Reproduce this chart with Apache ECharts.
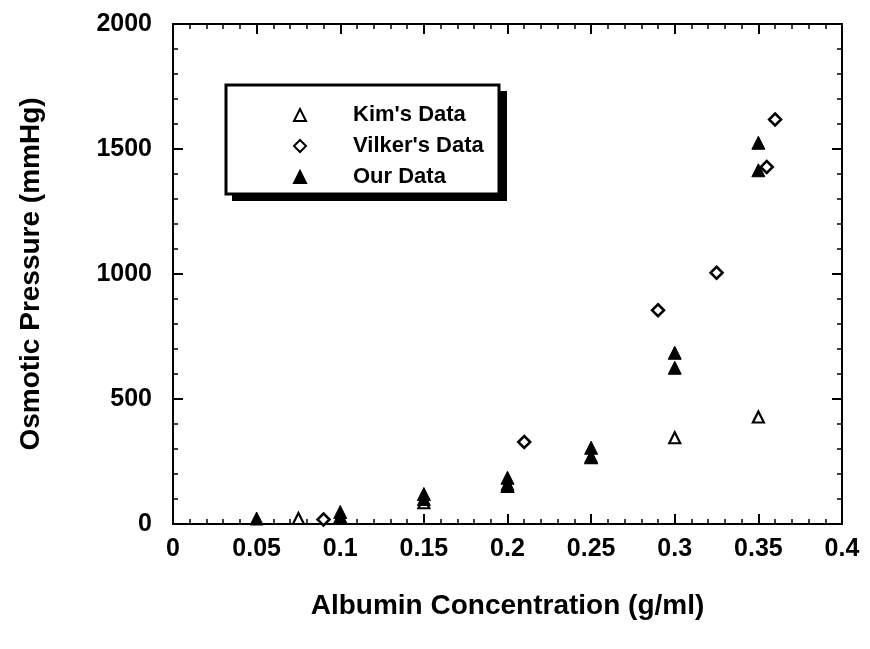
<!DOCTYPE html>
<html>
<head>
<meta charset="utf-8">
<script src="https://cdn.jsdelivr.net/npm/echarts@6/dist/echarts.min.js"></script>
<style>
  html, body { margin: 0; padding: 0; background: #fff; }
  #chart { width: 870px; height: 649px; }
</style>
</head>
<body>
<div id="chart"></div>
<script>
// values
const kimData = [
  [0.075, 22], [0.15, 85], [0.2, 150], [0.25, 265], [0.3, 345], [0.35, 428]
]
const vilkerData = [
  [0.09, 18], [0.21, 328], [0.29, 855], [0.325, 1005], [0.355, 1428], [0.36, 1618]
]
const ourData = [
  [0.05, 22], [0.1, 30], [0.1, 48], [0.15, 100], [0.15, 120],
  [0.2, 160], [0.2, 185], [0.25, 270], [0.25, 305],
  [0.3, 625], [0.3, 685], [0.35, 1415], [0.35, 1525]
]
const legendNames = ["Kim's Data", "Vilker's Data", 'Our Data']

const font = 'Liberation Sans, Arial, sans-serif'
const chart = echarts.init(document.getElementById('chart'))

const tickStyle = {
  axisLine: { show: true, onZero: false, lineStyle: { color: '#000', width: 2 } },
  axisTick: { show: true, inside: true, length: 10, lineStyle: { color: '#000', width: 2 } },
  minorTick: { show: true, splitNumber: 5, length: 5, lineStyle: { color: '#000', width: 1.5 } },
  splitLine: { show: false },
}
const baseX = { type: 'value', min: 0, max: 0.4, interval: 0.05, ...tickStyle }
const baseY = { type: 'value', min: 0, max: 2000, interval: 500, ...tickStyle }
const labelFont = { color: '#000', fontSize: 25, fontFamily: font, fontWeight: 'bold' }
const nameFont = { color: '#000', fontSize: 28, fontFamily: font, fontWeight: 'bold' }

const option = {
  backgroundColor: '#fff',
  animation: false,
  grid: { left: 173, right: 28, top: 24, bottom: 125 },
  xAxis: [
    {
      ...baseX,
      position: 'bottom',
      name: 'Albumin Concentration (g/ml)',
      nameLocation: 'middle',
      nameGap: 68,
      nameTextStyle: nameFont,
      axisLabel: { ...labelFont, margin: 13, formatter: v => String(+v.toFixed(2)) },
    },
    { ...baseX, position: 'top', axisLabel: { show: false } },
  ],
  yAxis: [
    {
      ...baseY,
      position: 'left',
      name: 'Osmotic Pressure (mmHg)',
      nameLocation: 'middle',
      nameGap: 128,
      nameTextStyle: nameFont,
      axisLabel: { ...labelFont, margin: 21, formatter: v => String(v) },
    },
    { ...baseY, position: 'right', axisLabel: { show: false } },
  ],
  graphic: [
    // legend frame with its heavy drop shadow
    { type: 'rect', z: 1, shape: { x: 232, y: 91, width: 275, height: 110 }, style: { fill: '#000' } },
    { type: 'rect', z: 2, shape: { x: 226, y: 85, width: 273, height: 109 },
      style: { fill: '#fff', stroke: '#000', lineWidth: 3 } },
  ],
  legend: {
    z: 10,
    orient: 'vertical',
    left: 288,
    top: 99,
    itemGap: 9,
    itemWidth: 12,
    itemHeight: 12,
    textStyle: { color: '#000', fontSize: 22, fontFamily: font, fontWeight: 'bold', padding: [0, 0, 0, 42] },
    data: legendNames,
  },
  series: [
    {
      name: legendNames[0], type: 'scatter', data: kimData,
      symbol: 'triangle', symbolSize: 11,
      itemStyle: { color: '#fff', borderColor: '#000', borderWidth: 2.2, opacity: 1 },
    },
    {
      name: legendNames[1], type: 'scatter', data: vilkerData,
      symbol: 'diamond', symbolSize: 12,
      itemStyle: { color: '#fff', borderColor: '#000', borderWidth: 2.5, opacity: 1 },
    },
    {
      name: legendNames[2], type: 'scatter', data: ourData,
      symbol: 'triangle', symbolSize: 13,
      itemStyle: { color: '#000', borderColor: '#000', borderWidth: 1, opacity: 1 },
    },
  ],
}

chart.setOption(option)
</script>
</body>
</html>
